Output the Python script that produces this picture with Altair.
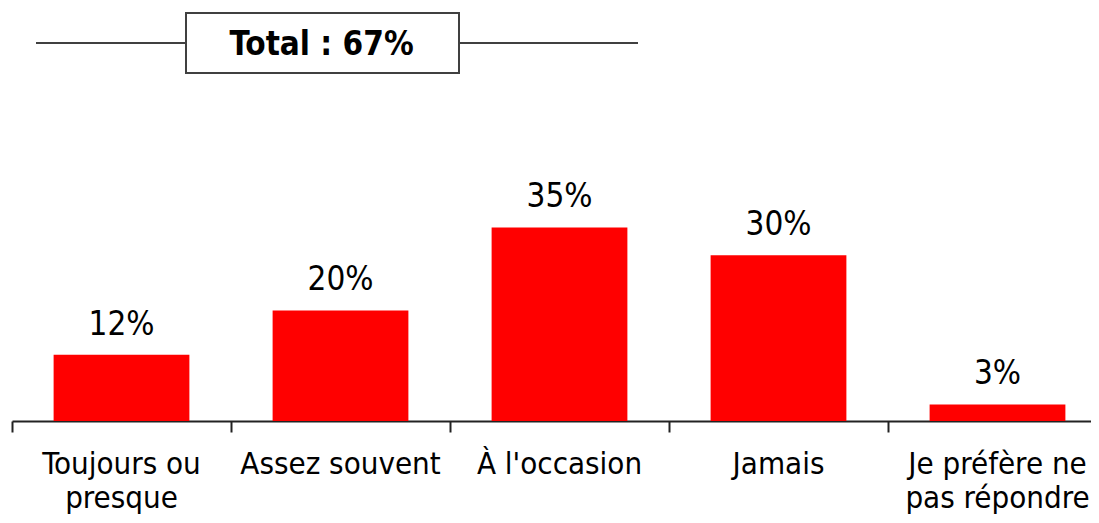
import altair as alt
import pandas as pd

categories = ["Toujours ou\npresque", "Assez souvent", "À l'occasion", "Jamais", "Je préfère ne\npas répondre"]
values = [12, 20, 35, 30, 3]
labels = ["12%", "20%", "35%", "30%", "3%"]
total_label = ["Total : 67%"]

df = pd.DataFrame({"cat": categories, "val": values, "lab": labels})
tdf = pd.DataFrame({"t": total_label})

FONT = "DejaVu Sans Condensed, DejaVu Sans"

x = alt.X(
    "cat:N",
    sort=categories,
    title=None,
    scale=alt.Scale(paddingInner=0, paddingOuter=0, range=[0, 1095]),
    axis=alt.Axis(
        bandPosition=0,
        labelAngle=0,
        labelFontSize=31,
        labelFont=FONT,
        labelColor="black",
        labelLineHeight=34,
        labelPadding=17,
        labelLimit=0,
        tickSize=11,
        tickWidth=2,
        tickColor="#222222",
        domainColor="#222222",
        domainWidth=2,
        labelExpr="split(datum.label, '\\n')",
    ),
)
y = alt.Y("val:Q", scale=alt.Scale(domain=[0, 74.7]), axis=None)

base = alt.Chart(df)
bars = base.mark_bar(color="#FF0000", width=alt.RelativeBandSize(0.62)).encode(x=x, y=y)
text = base.mark_text(fontSize=33, font=FONT, dy=-20, baseline="alphabetic", color="black").encode(
    x=x, y=y, text="lab:N"
)

ann = alt.Chart(tdf)
line_l = ann.mark_rule(color="#404040", strokeWidth=2).encode(
    x=alt.value(24), x2=alt.value(174), y=alt.value(35)
)
line_r = ann.mark_rule(color="#404040", strokeWidth=2).encode(
    x=alt.value(447), x2=alt.value(626), y=alt.value(35)
)
box = ann.mark_rect(fill="white", stroke="#404040", strokeWidth=2).encode(
    x=alt.value(174), x2=alt.value(447), y=alt.value(5), y2=alt.value(65)
)
ttext = ann.mark_text(fontSize=33, fontWeight="bold", font=FONT, color="black", baseline="alphabetic").encode(
    x=alt.value(309.5), y=alt.value(47), text="t:N"
)

chart = alt.layer(bars, text, line_l, line_r, box, ttext).properties(
    width=1079,
    height=413,
    autosize=alt.AutoSizeParams(type="none"),
    padding={"left": 4, "top": 0, "right": 0, "bottom": 94},
).configure_view(stroke=None)

chart.save("out.html", embed_options={"renderer": "svg", "actions": False})
